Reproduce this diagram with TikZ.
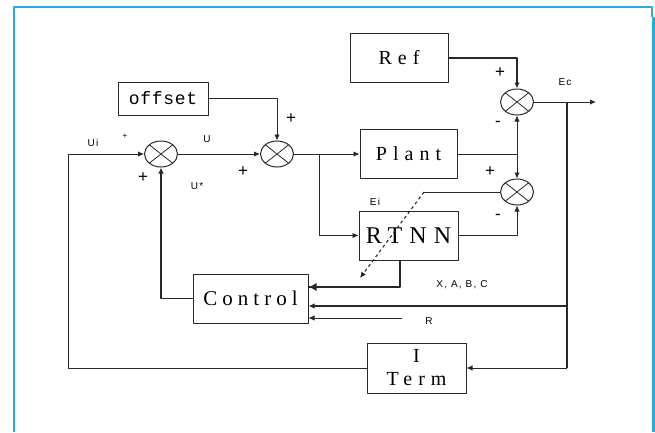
\documentclass[tikz,border=0pt]{standalone}
\usepackage{fontspec}
\usepackage{tikz}
\usetikzlibrary{arrows.meta,calc,shapes.geometric}
\newfontfamily\labelfont[LetterSpace=12]{Liberation Sans}
\newfontfamily\boxfont[LetterSpace=30]{Liberation Serif}
\newfontfamily\ctrlfont[LetterSpace=24]{Liberation Serif}
\newfontfamily\offsetfont[LetterSpace=4]{Liberation Mono}
\definecolor{frameblue}{RGB}{41,171,226}
\definecolor{ink}{RGB}{40,40,40}

\begin{document}
\begin{tikzpicture}[x=1pt,y=-1pt,>={Latex[length=6pt,width=5.5pt]},line join=round,
  blk/.style={draw=ink,line width=1pt,minimum height=49pt,inner sep=0pt,
    font=\boxfont\fontsize{20}{24}\selectfont},
  sum/.style={ellipse,draw=ink,line width=1pt,minimum width=33pt,minimum height=26pt,
    inner sep=0pt,path picture={
      \draw[ink,line width=0.8pt] (path picture bounding box.north west) -- (path picture bounding box.south east)
        (path picture bounding box.south west) -- (path picture bounding box.north east);}},
  wire/.style={draw=ink,line width=0.9pt},
  arr/.style={wire,->},
  lbl/.style={font=\labelfont\fontsize{10}{11}\selectfont,inner sep=0pt},
  sgn/.style={font=\labelfont\fontsize{17}{17}\selectfont,inner sep=0pt}]
  \useasboundingbox (0,0) rectangle (655,432);
  % frame
  \draw[frameblue,line width=1.5pt] (14,432) -- (14,7) -- (652,7) -- (652,17);
  \fill[frameblue] (651.5,17) rectangle (655,432);
  % blocks
  \node[blk,minimum width=98pt] (ref) at (399,58) {Ref};
  \node[blk,minimum width=90pt,minimum height=33pt,font=\offsetfont\fontsize{18}{20}\selectfont] (offset) at (163,98.5) {offset};
  \node[blk,minimum width=97pt] (plant) at (408.5,154) {Plant};
  \node[blk,minimum width=99pt,font=\boxfont\fontsize{24}{26}\selectfont] (rtnn) at (408.5,235.5) {RTNN};
  \node[blk,minimum width=115pt,font=\ctrlfont\fontsize{21}{24}\selectfont] (control) at (250.5,298.5) {Control};
  \node[blk,minimum width=99pt,minimum height=50pt,align=center] (iterm) at (416.5,368) {I\\[-1pt]Term};
  % summing junctions
  \node[sum] (s1) at (161,154) {};
  \node[sum] (s2) at (277,154) {};
  \node[sum] (sEc) at (517,102) {};
  \node[sum] (sEi) at (517,192) {};
  % points on the wires
  \coordinate (lft) at (68,368);
  \coordinate (br) at (319,154);
  \coordinate (pj) at (517,154);
  \coordinate (ecout) at (596,102);
  \coordinate (ecb) at (567,102);
  \coordinate (ecd) at (567,368);
  \coordinate (xr) at (567,306);
  \coordinate (xabc) at (400,287);
  \coordinate (rin) at (402,318);
  \coordinate (eik) at (424,192);
  \coordinate (eitip) at (360,278);
  % connectors
  \draw[arr] (iterm.west) -- (lft) |- (s1.west);
  \draw[arr] (s1.east) -- (s2.west);
  \draw[arr,line width=1.3pt] (control.west) -| (s1.south);
  \draw[arr] (offset.east) -| (s2.north);
  \draw[arr] (s2.east) -- (plant.west);
  \draw[arr] (br) |- (rtnn.west);
  \draw[arr,line width=1.4pt] (ref.east) -| (sEc.north);
  \draw[wire] (plant.east) -- (pj);
  \draw[arr] (pj) -- (sEc.south);
  \draw[arr] (pj) -- (sEi.north);
  \draw[arr] (rtnn.east) -| (sEi.south);
  \draw[arr] (sEc.east) -- (ecout);
  \draw[wire,line width=1.8pt] (ecb) -- (ecd);
  \draw[arr] (ecd) -- (iterm.east);
  \draw[arr,line width=1.4pt] (xr) -- (control.east |- xr);
  \draw[wire,line width=2.6pt] (xabc -| rtnn.south) ++(-8.5,0) coordinate (rb) (rb |- rtnn.south) -- (rb) -- (control.east |- xabc);
  \draw[->,ink,line width=1pt,>={Latex[length=8pt,width=8pt]}] ($(control.east |- xabc)+(10,0)$) -- (control.east |- xabc);
  \draw[arr] (rin) -- (control.east |- rin);
  \draw[wire] (sEi.west) -- (eik);
  \draw[arr,dashed,line width=1.1pt] (eik) -- (eitip);
  % labels
  \node[lbl] at (93,143) {Ui};
  \node[lbl,font=\labelfont\fontsize{8}{8}\selectfont] at (125,136) {+};
  \node[lbl] at (207,139) {U};
  \node[lbl] at (197,186) {U*};
  \node[lbl] at (565,82) {Ec};
  \node[lbl] at (375,202) {Ei};
  \node[lbl] at (462,285) {X, A, B, C};
  \node[lbl] at (429,321) {R};
  \node[sgn] at (143,178) {+};
  \node[sgn] at (243,172) {+};
  \node[sgn] at (291,119) {+};
  \node[sgn] at (500,73) {+};
  \node[sgn] at (498,124) {-};
  \node[sgn] at (490,172) {+};
  \node[sgn] at (498,217) {-};
\end{tikzpicture}
\end{document}
